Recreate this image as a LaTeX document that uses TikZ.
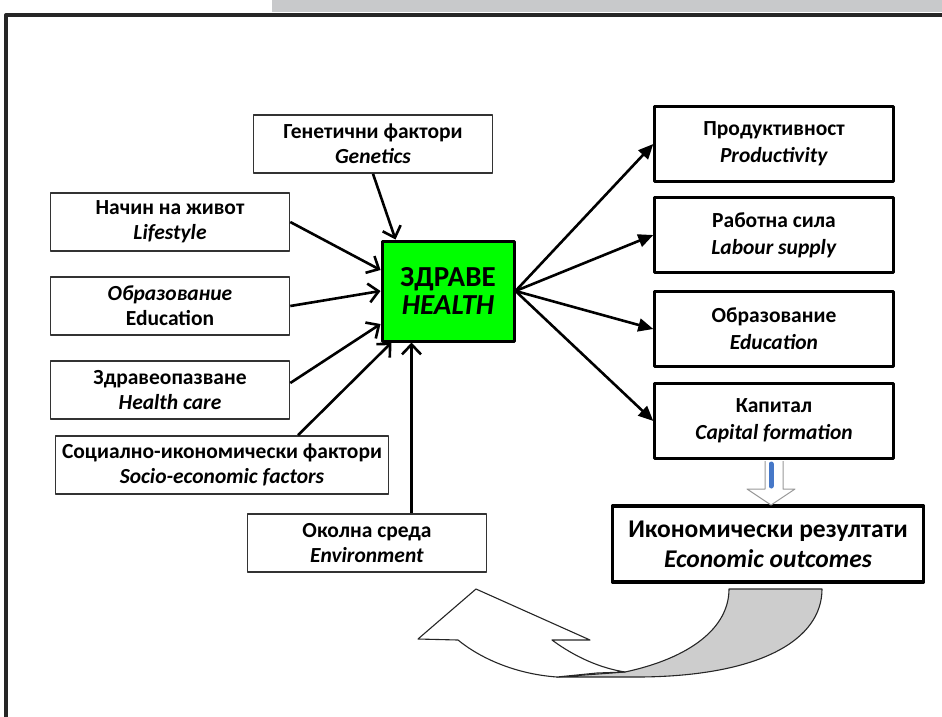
\documentclass[tikz,border=0pt]{standalone}
\usepackage{fontspec}
\setmainfont{Carlito}
\usetikzlibrary{arrows.meta}
\definecolor{healthgreen}{RGB}{0,255,0}
\definecolor{bandgray}{RGB}{200,201,203}
\definecolor{foldgray}{RGB}{205,205,205}
\definecolor{shaftblue}{RGB}{70,120,200}

\begin{document}
\begin{tikzpicture}[x=1pt, y=-1pt, line join=round,
		box/.style={draw=black!80, line width=1.6pt, fill=white, align=center, inner sep=0pt,
			minimum width=239pt, minimum height=58pt, font=\fontsize{21.5}{25}\selectfont\bfseries},
		rbox/.style={box, draw=black, line width=2.4pt, minimum height=75pt,
			font=\fontsize{21.5}{27}\selectfont\bfseries},
		inarr/.style={line width=2.6pt, -{Straight Barb[length=10pt, width=19pt, line width=2.6pt]}},
		outarr/.style={line width=2.6pt, -{Triangle[length=15pt, width=13pt]}}]
	\useasboundingbox (0,0) rectangle (942,716);
	% frame and band at the top
	\fill[bandgray] (272,0) rectangle (942,12);
	\draw[black!85, line width=4pt] (6,720) -- (6,15) -- (946,15);
	% causes
	\node[box] (gen) at (373,144) {Генетични фактори\\\textit{Genetics}};
	\node[box] (life) at (170,222) {Начин на живот\\\textit{Lifestyle}};
	\node[box] (edul) at (170,306) {\textit{Образование}\\Education};
	\node[box] (care) at (170,390) {Здравеопазване\\\textit{Health care}};
	\node[box, minimum width=333pt] (soc) at (222,465) {Социално-икономически фактори\\\textit{Socio-economic factors}};
	\node[box] (env) at (367,543) {Околна среда\\\textit{Environment}};
	% health
	\node[draw, line width=3pt, fill=healthgreen, align=center, inner sep=0pt,
		minimum width=132pt, minimum height=100pt, font=\fontsize{29}{28}\selectfont\bfseries] (health) at (448,291)
		{ЗДРАВЕ\\\textit{HEALTH}};
	\coordinate (envin) at ([xshift=31pt]health.south west);
	% effects
	\node[rbox] (prod) at (774,144) {Продуктивност\\\textit{Productivity}};
	\node[rbox] (lab) at (774,235) {Работна сила\\\textit{Labour supply}};
	\node[rbox] (edur) at (774,329) {Образование\\\textit{Education}};
	\node[rbox] (cap) at (774,421) {Капитал\\\textit{Capital formation}};
	\node[rbox, line width=3.2pt, minimum width=311pt, minimum height=76pt,
		font=\fontsize{25.5}{30}\selectfont\bfseries] (eco) at (768,544)
		{Икономически резултати\\\textit{Economic outcomes}};
	% arrows into health
	\draw[inarr] (gen.south) -- ([xshift=15pt]health.north west);
	\draw[inarr] (life.east) -- ([yshift=21pt]health.west);
	\draw[inarr] (edul.east) -- (health.west);
	\draw[inarr] ([yshift=7pt]care.east) -- ([yshift=-33pt]health.west);
	\draw[inarr] ([xshift=76pt]soc.north) -- ([xshift=11pt]health.south west);
	\draw[inarr] (env.north -| envin) -- (envin);
	% arrows out of health
	\foreach \t in {prod,lab,edur,cap}
		\draw[outarr] (health.east) -- (\t.west);
	% block arrow to the outcomes
	\draw[black!40, fill=white, line width=1pt] (765,461) -- (765,489) -- (747,489) -- (771,505)
		-- (795,489) -- (783,489) -- (783,461);
	\draw[shaftblue, line width=5pt, line cap=round] (771,464) -- (771,486);
	% curved arrow back
	\draw[black!85, line width=1.1pt, fill=foldgray] (729,589) -- (822,589)
		.. controls (822,640) and (760,676) .. (640,677) -- (557,677) -- (625,672)
		.. controls (690,658) and (729,628) .. cycle;
	\draw[black!85, line width=1.1pt, fill=white] (552,640) .. controls (575,657) and (600,668) .. (625,672)
		-- (597,673) -- (557,677) .. controls (515,674) and (480,658) .. (458,640)
		-- (418,639) -- (476,589) -- (590,640) -- cycle;
\end{tikzpicture}
\end{document}
